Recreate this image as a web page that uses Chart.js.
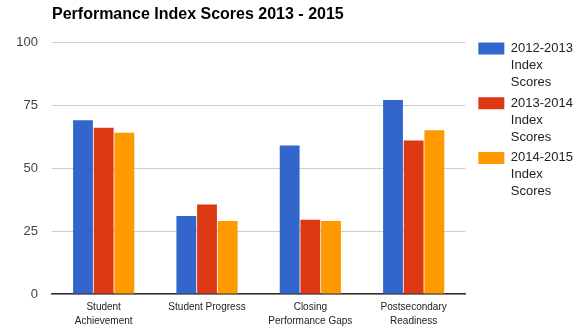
<!DOCTYPE html>
<html>
<head>
<meta charset="utf-8">
<script src="https://cdn.jsdelivr.net/npm/chart.js@4"></script>
<style>
  html, body { margin: 0; padding: 0; background: #fff; }
  #wrap { width: 583px; height: 336px; }
</style>
</head>
<body>
<div id="wrap"><canvas id="scoresChart"></canvas></div>
<script>
// Data
var categories = [
    ['Student', 'Achievement'],
    'Student Progress',
    ['Closing', 'Performance Gaps'],
    ['Postsecondary', 'Readiness']
];
var seriesNames = [
    ['2012-2013', 'Index', 'Scores'],
    ['2013-2014', 'Index', 'Scores'],
    ['2014-2015', 'Index', 'Scores']
];
var scores2013 = [69, 31, 59, 77];
var scores2014 = [66, 35.5, 29.5, 61];
var scores2015 = [64, 29, 29, 65];
var yTicks = [0, 25, 50, 75, 100];

var colors = ['#3366cc', '#dc3912', '#ff9900'];
var allScores = [scores2013, scores2014, scores2015];

// leave a gap between plot and legend: pad the right side, then slide legend back
var legendGap = {
    id: 'legendGap',
    afterLayout: function(chart) {
        chart.legend.left += 9;
        chart.legend.right += 9;
    }
};

var ctx = document.getElementById('scoresChart').getContext('2d');
var scoresChart = new Chart(ctx, {
    type: 'bar',
    data: {
        labels: categories,
        datasets: allScores.map(function(vals, i) {
            return {
                label: seriesNames[i].join(' '),
                data: vals,
                backgroundColor: colors[i],
                borderWidth: 0,
                categoryPercentage: 0.6,
                barPercentage: 0.96
            };
        })
    },
    plugins: [legendGap],
    options: {
        responsive: true,
        maintainAspectRatio: false,
        animation: false,
        layout: { padding: { left: 0, right: 9, top: 0, bottom: 2 } },
        plugins: {
            title: {
                display: true,
                text: 'Performance Index Scores 2013 - 2015',
                align: 'start',
                fullSize: false,
                color: '#000',
                font: { family: 'Liberation Sans', size: 16, weight: 'bold' },
                padding: { top: 5, bottom: 18 }
            },
            legend: {
                position: 'right',
                align: 'start',
                // blank title only pushes the items down to the plot top
                title: {
                    display: true,
                    text: ' ',
                    font: { size: 10, lineHeight: 1 },
                    padding: { top: 0, bottom: 28 }
                },
                labels: {
                    boxWidth: 26,
                    boxHeight: 12,
                    padding: 4,
                    color: '#222',
                    font: { family: 'Liberation Sans', size: 13, lineHeight: 1.3 },
                    generateLabels: function(chart) {
                        return chart.data.datasets.map(function(ds, i) {
                            return {
                                text: seriesNames[i],
                                fillStyle: colors[i],
                                strokeStyle: colors[i],
                                fontColor: '#222',
                                lineWidth: 0,
                                datasetIndex: i
                            };
                        });
                    }
                }
            },
            tooltip: { enabled: false }
        },
        scales: {
            x: {
                grid: { display: false, drawTicks: false },
                border: { display: true, color: '#333', width: 1.5 },
                ticks: {
                    color: '#222',
                    padding: 6,
                    maxRotation: 0,
                    autoSkip: false,
                    font: { family: 'Liberation Sans', size: 10, lineHeight: 1.4 }
                }
            },
            y: {
                min: 0,
                max: 100,
                afterBuildTicks: function(axis) {
                    axis.ticks = yTicks.map(function(v) { return { value: v }; });
                },
                afterFit: function(axis) { axis.width = 52; },
                grid: { color: '#cccccc', drawTicks: false },
                border: { display: false },
                ticks: {
                    color: '#444',
                    padding: 14,
                    font: { family: 'Liberation Sans', size: 13 }
                }
            }
        }
    }
});
</script>
</body>
</html>
